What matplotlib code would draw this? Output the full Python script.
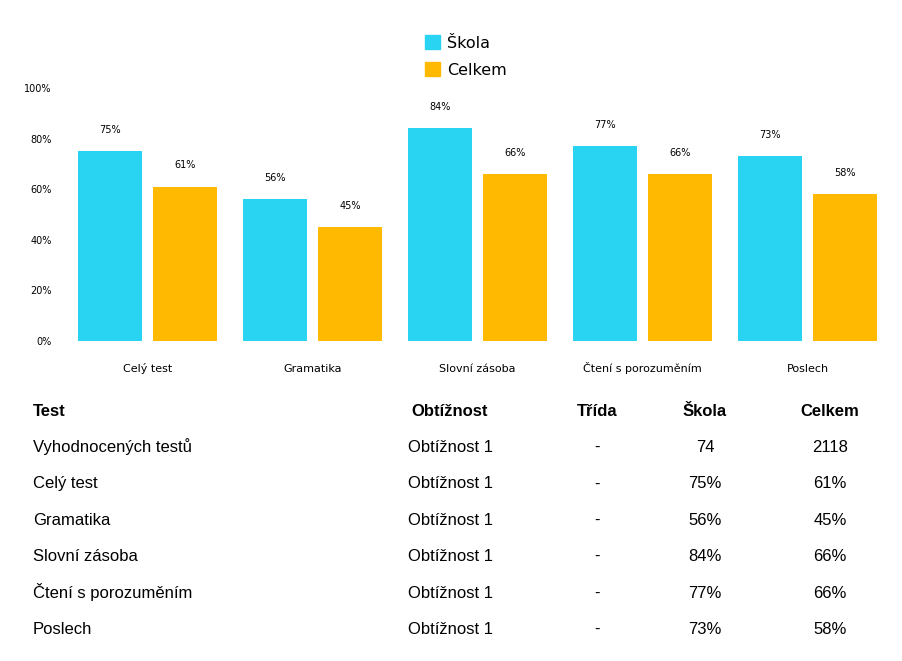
import numpy as np
import matplotlib
matplotlib.use("Agg")
import matplotlib.pyplot as plt
from matplotlib.patches import Patch

# data
categories = ["Celý test", "Gramatika", "Slovní zásoba", "Čtení s porozuměním", "Poslech"]
skola = [75, 56, 84, 77, 73]
celkem = [61, 45, 66, 66, 58]
yticks = [0, 20, 40, 60, 80, 100]

table_header = ["Test", "Obtížnost", "Třída", "Škola", "Celkem"]
row_names = ["Vyhodnocených testů"] + categories
row_diff = ["Obtížnost 1"] * 6
row_trida = ["-"] * 6
row_skola = ["74"] + [f"{v}%" for v in skola]
row_celkem = ["2118"] + [f"{v}%" for v in celkem]

c_skola = "#29D4F2"
c_celkem = "#FFB900"

W, H = 902, 661
fig = plt.figure(figsize=(W / 100, H / 100), dpi=100)
ax = fig.add_axes([65 / W, 1 - 341 / H, 825 / W, 253 / H])

x = np.arange(len(categories))
bw = 0.388
off = 0.2273
ax.bar(x - off, skola, bw, color=c_skola)
ax.bar(x + off, celkem, bw, color=c_celkem)

for xi, v in zip(x - off, skola):
    ax.text(xi, v + 6.5, f"{v}%", ha="center", va="bottom", fontsize=7)
for xi, v in zip(x + off, celkem):
    ax.text(xi, v + 6.5, f"{v}%", ha="center", va="bottom", fontsize=7)

ax.set_xlim(-0.5, len(categories) - 0.5)
ax.set_ylim(0, 100)
ax.set_yticks(yticks)
ax.set_yticklabels([f"{t}%" for t in yticks], fontsize=7)
ax.set_xticks(x)
ax.set_xticklabels(categories, fontsize=8, va="baseline")
ax.tick_params(axis="both", length=0)
ax.tick_params(axis="x", pad=22)
ax.tick_params(axis="y", pad=9.5)
for s in ax.spines.values():
    s.set_visible(False)

handles = [Patch(color=c_skola, label="Škola"), Patch(color=c_celkem, label="Celkem")]
fig.legend(handles=handles, loc="upper left", bbox_to_anchor=(411 / W, 1 - 21 / H),
           frameon=False, fontsize=11.5, handlelength=0.9, handleheight=0.9,
           handletextpad=0.45, labelspacing=0.75)

# table below chart
col_x = [33, 450, 597, 705, 830]
col_ha = ["left", "center", "center", "center", "center"]
font = ["Liberation Sans", "DejaVu Sans"]
for cx, ha, t in zip(col_x, col_ha, table_header):
    fig.text(cx / W, 1 - 416 / H, t, ha=ha, va="baseline", fontsize=12,
             fontweight="bold", family=font)

cols = [row_names, row_diff, row_trida, row_skola, row_celkem]
for r in range(len(row_names)):
    y = 452 + r * 36.4
    for cx, ha, col in zip(col_x, col_ha, cols):
        fig.text(cx / W, 1 - y / H, col[r], ha=ha, va="baseline", fontsize=12, family=font)

fig.savefig("out.png", dpi=100, facecolor="white")
